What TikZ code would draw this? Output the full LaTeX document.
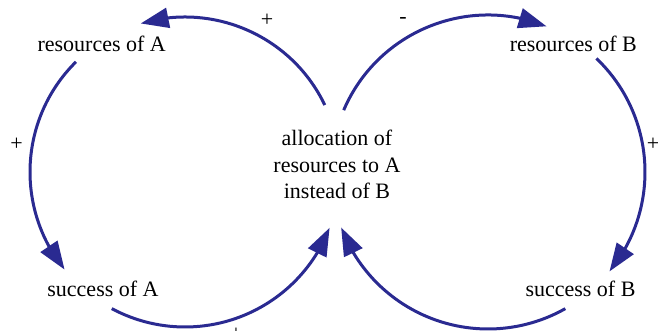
\documentclass[tikz,border=0pt]{standalone}
\usepackage{fontspec}
\setmainfont{Liberation Serif}
\usetikzlibrary{arrows.meta,bending,calc}
\definecolor{loopblue}{RGB}{42,42,145}
\tikzset{
  lbl/.style={font=\fontsize{22}{26.5}\selectfont, inner sep=0pt, anchor=base},
  sign/.style={font=\fontsize{22}{26.5}\selectfont, inner sep=0pt},
  link/.style={draw=loopblue, line width=3pt, -{Triangle[length=28pt,width=20pt,flex]}}
}
\begin{document}
\begin{tikzpicture}[x=1pt,y=1pt]
\useasboundingbox (0,0) rectangle (658,-331);
% text nodes
\node[lbl] (resA) at (101.7,-51.7) {resources of A};
\node[lbl] (resB) at (573.3,-51.7) {resources of B};
\node[lbl] (sucA) at (103,-296.7) {success of A};
\node[lbl] (sucB) at (580.5,-296.7) {success of B};
\node[font=\fontsize{22}{26.5}\selectfont, inner sep=0pt, align=center, anchor=north] (alloc) at (337,-130)
  {allocation of\\resources to A\\instead of B};
% loop centres
\coordinate (CL) at (185,-172);
\coordinate (CR) at (488,-172);
% connector start points
\coordinate (L1s) at ($(CL)+(25.6:155)$);
\coordinate (L2s) at ($(CL)+(134.7:155)$);
\coordinate (L3s) at ($(CL)+(241.8:155)$);
\coordinate (R1s) at ($(CR)+(156.8:157)$);
\coordinate (R2s) at ($(CR)+(46.3:157)$);
\coordinate (R3s) at ($(CR)+(-60.5:157)$);
% left loop
\draw[link] (L1s) arc[start angle=25.6, end angle=106.6, radius=155];
\draw[link] (L2s) arc[start angle=134.7, end angle=219, radius=155];
\draw[link] (L3s) arc[start angle=241.8, end angle=338.9, radius=155];
% right loop
\draw[link] (R1s) arc[start angle=156.8, end angle=68.1, radius=157];
\draw[link] (R2s) arc[start angle=46.3, end angle=-39.3, radius=157];
\draw[link] (R3s) arc[start angle=-60.5, end angle=-159.3, radius=157];
% polarity signs
\node[sign] (p1) at (267,-20) {+};
\node[sign] (p2) at (403,-20.5) {-};
\node[sign] (p3) at (16.5,-144) {+};
\node[sign] (p4) at (653,-144) {+};
\node[sign] (p5) at (236,-334) {+};
\end{tikzpicture}
\end{document}
